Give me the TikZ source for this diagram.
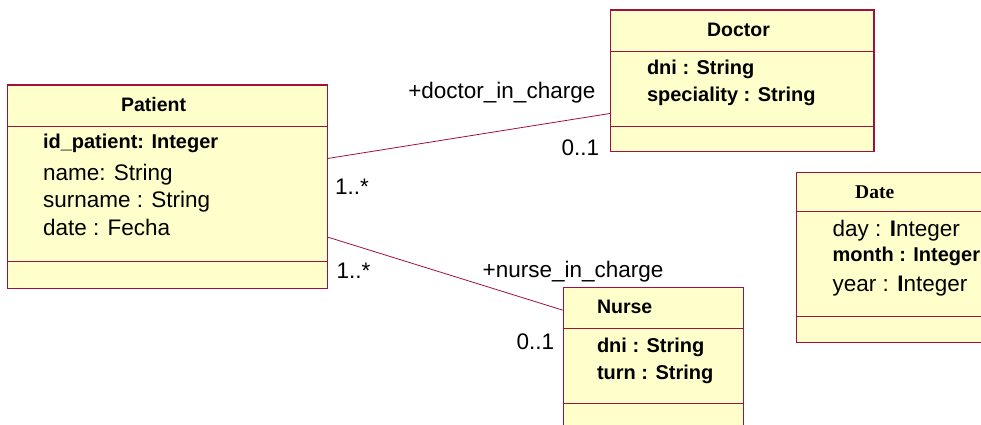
\documentclass[tikz,border=0pt]{standalone}
\usepackage{fontspec}
\setmainfont{Liberation Sans}
\newfontfamily\datefont{Liberation Serif}
\definecolor{umlfill}{RGB}{255,255,204}
\definecolor{umlline}{RGB}{160,16,60}
\tikzset{
  classbox/.style={draw=umlline, fill=umlfill, line width=1.1pt, inner sep=0pt, rectangle},
  sepline/.style={draw=umlline, line width=0.9pt},
  assoc/.style={draw=umlline, line width=0.8pt},
  txt/.style={anchor=base west, inner sep=0pt, outer sep=0pt, font=\fontsize{22.5}{27}\selectfont},
  btxt/.style={anchor=base west, inner sep=0pt, outer sep=0pt, font=\fontsize{20}{24}\selectfont\bfseries},
  ttl/.style={anchor=base west, inner sep=0pt, outer sep=0pt, font=\fontsize{19.5}{23}\selectfont\bfseries},
}
\begin{document}
\begin{tikzpicture}[x=1pt,y=-1pt]
\useasboundingbox (0,0) rectangle (981,425);
% boxes
\node[classbox, minimum width=320pt, minimum height=203.3pt] (patient) at (167.3,186.65) {};
\node[classbox, minimum width=263.3pt, minimum height=141.7pt] (doctor) at (742.35,80.85) {};
\node[classbox, minimum width=180pt, minimum height=141pt] (nurse) at (653.3,357.8) {};
\node[classbox, minimum width=190pt, minimum height=170pt] (date) at (891.7,257.3) {};
% separators
\draw[sepline] ([yshift=-41.7pt]patient.north west) -- ([yshift=-41.7pt]patient.north east);
\draw[sepline] ([yshift=-176.7pt]patient.north west) -- ([yshift=-176.7pt]patient.north east);
\draw[sepline] ([yshift=-41.7pt]doctor.north west) -- ([yshift=-41.7pt]doctor.north east);
\draw[sepline] ([yshift=-116.7pt]doctor.north west) -- ([yshift=-116.7pt]doctor.north east);
\draw[sepline] ([yshift=-41.7pt]nurse.north west) -- ([yshift=-41.7pt]nurse.north east);
\draw[sepline] ([yshift=-116.7pt]nurse.north west) -- ([yshift=-116.7pt]nurse.north east);
\draw[sepline] ([yshift=-39.4pt]date.north west) -- ([yshift=-39.4pt]date.north east);
\draw[sepline] ([yshift=-145pt]date.north west) -- ([yshift=-145pt]date.north east);
% titles
\node[ttl] (tpatient) at (121,111.7) {Patient};
\node[ttl] (tdoctor) at (707,36.7) {Doctor};
\node[ttl] (tnurse) at (597,313.3) {Nurse};
\node[anchor=base west, inner sep=0pt, font=\fontsize{19.5}{23}\selectfont\datefont\bfseries] (tdate) at (855,198.3) {Date};
% patient attributes
\node[btxt] (pa1) at (43,148.3) {id\_patient: Integer};
\node[txt] (pa2) at (43,180) {name: String};
\node[txt] (pa3) at (43,207.7) {surname : String};
\node[txt] (pa4) at (43,235) {date : Fecha};
% doctor attributes
\node[btxt] (da1) at (647,75) {dni : String};
\node[btxt] (da2) at (647,101.7) {speciality : String};
% nurse attributes
\node[btxt] (na1) at (597,352.3) {dni : String};
\node[btxt] (na2) at (597,379) {turn : String};
% date attributes
\node[txt] (dt1) at (832.7,236.7) {day : \textbf{I}nteger};
\node[btxt] (dt2) at (832.7,261.7) {month : Integer};
\node[txt] (dt3) at (832.7,291.7) {year : \textbf{I}nteger};
% associations
\draw[assoc] ([yshift=-74pt]patient.north east) -- ([yshift=-104pt]doctor.north west);
\draw[assoc] ([yshift=-152.7pt]patient.north east) -- ([yshift=-23.4pt]nurse.north west);
% labels
\node[txt] (l1) at (408.3,99) {+doctor\_in\_charge};
\node[txt] (l2) at (561.7,155.7) {0..1};
\node[txt] (l3) at (335,194) {1..*};
\node[txt] (l4) at (336.7,278.3) {1..*};
\node[txt] (l5) at (482.7,277.3) {+nurse\_in\_charge};
\node[txt] (l6) at (516.7,349) {0..1};
\end{tikzpicture}
\end{document}
